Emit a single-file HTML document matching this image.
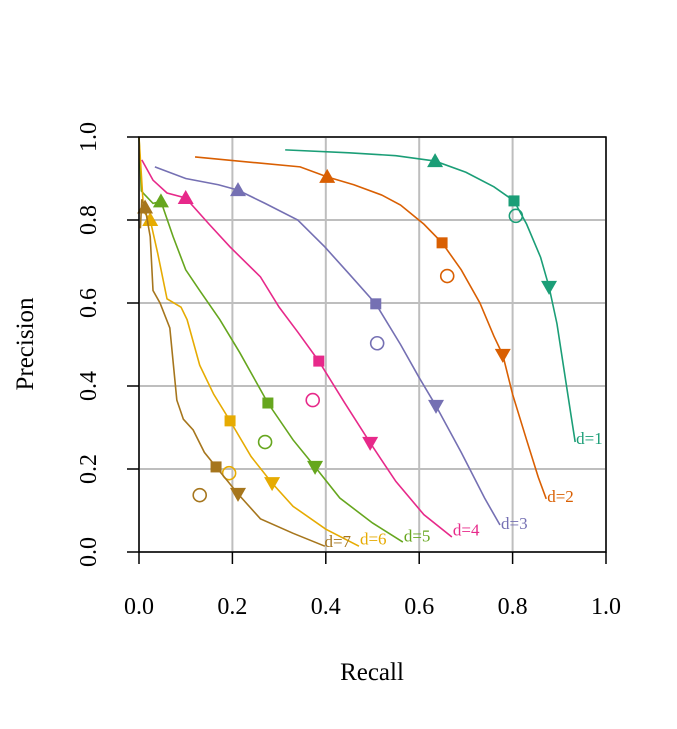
<!DOCTYPE html>
<html><head><meta charset="utf-8"><style>
body{margin:0;background:#fff}
svg text{font-family:"Liberation Serif",serif;}
</style></head><body>
<svg id="chart" width="677" height="724" viewBox="0 0 677 724" xmlns="http://www.w3.org/2000/svg">
<rect width="677" height="724" fill="#fff"/>
<g id="grid"></g>
<g id="series"></g>
<g id="axes"></g>
<text x="372" y="680" font-size="25" text-anchor="middle">Recall</text>
<text x="33" y="344" font-size="25" text-anchor="middle" transform="rotate(-90 33 344)">Precision</text>
</svg>
<script>
const xTicks=[0,0.2,0.4,0.6,0.8,1.0];
const yTicks=[0,0.2,0.4,0.6,0.8,1.0];
const tickLabels=["0.0","0.2","0.4","0.6","0.8","1.0"];
const seriesNames=["d=1","d=2","d=3","d=4","d=5","d=6","d=7"];
const colors=["#1B9E77","#D95F02","#7570B3","#E7298A","#66A61E","#E6AB02","#A6761D"];
const d1=[[0.313,0.969],[0.45,0.962],[0.55,0.955],[0.634,0.942],[0.70,0.915],[0.76,0.88],[0.803,0.846],[0.83,0.79],[0.86,0.71],[0.878,0.639],[0.895,0.55],[0.91,0.44],[0.925,0.33],[0.934,0.265]];
const d2=[[0.12,0.952],[0.25,0.938],[0.345,0.928],[0.403,0.904],[0.46,0.885],[0.52,0.86],[0.56,0.836],[0.61,0.79],[0.649,0.745],[0.69,0.68],[0.73,0.6],[0.76,0.52],[0.779,0.475],[0.80,0.38],[0.83,0.27],[0.855,0.18],[0.872,0.128]];
const d3=[[0.034,0.928],[0.1,0.9],[0.17,0.885],[0.212,0.872],[0.27,0.84],[0.34,0.8],[0.398,0.735],[0.45,0.67],[0.507,0.598],[0.56,0.5],[0.6,0.42],[0.636,0.352],[0.69,0.24],[0.74,0.13],[0.773,0.065]];
const d4=[[0.006,0.945],[0.03,0.896],[0.06,0.865],[0.1,0.853],[0.15,0.79],[0.195,0.735],[0.26,0.663],[0.3,0.59],[0.34,0.53],[0.385,0.46],[0.44,0.36],[0.495,0.263],[0.55,0.17],[0.61,0.09],[0.67,0.036]];
const d5=[[0,1],[0.005,0.87],[0.013,0.86],[0.03,0.84],[0.047,0.845],[0.073,0.76],[0.10,0.68],[0.13,0.63],[0.173,0.56],[0.216,0.48],[0.276,0.359],[0.33,0.27],[0.377,0.205],[0.43,0.13],[0.5,0.07],[0.565,0.024]];
const d6=[[0,1],[0.01,0.82],[0.024,0.8],[0.04,0.72],[0.06,0.61],[0.09,0.59],[0.103,0.56],[0.13,0.45],[0.16,0.38],[0.195,0.316],[0.24,0.23],[0.285,0.166],[0.33,0.11],[0.4,0.055],[0.471,0.014]];
const d7=[[0.003,0.78],[0.006,0.85],[0.013,0.83],[0.024,0.76],[0.03,0.63],[0.045,0.6],[0.066,0.54],[0.081,0.366],[0.095,0.32],[0.116,0.294],[0.14,0.24],[0.165,0.205],[0.212,0.14],[0.26,0.08],[0.33,0.045],[0.398,0.014]];
const upMarkers=[[0.634,0.942],[0.403,0.904],[0.212,0.872],[0.1,0.853],[0.047,0.845],[0.024,0.8],[0.013,0.83]];
const squareMarkers=[[0.803,0.846],[0.649,0.745],[0.507,0.598],[0.385,0.46],[0.276,0.359],[0.195,0.316],[0.165,0.205]];
const downMarkers=[[0.878,0.639],[0.779,0.475],[0.636,0.352],[0.495,0.263],[0.377,0.205],[0.285,0.166],[0.212,0.14]];
const circleMarkers=[[0.807,0.81],[0.66,0.665],[0.51,0.503],[0.372,0.366],[0.27,0.265],[0.193,0.19],[0.13,0.137]];
const labelPos=[[0.934,0.27],[0.872,0.13],[0.773,0.065],[0.67,0.05],[0.565,0.035],[0.471,0.028],[0.395,0.022]];
const allSeries=[d1,d2,d3,d4,d5,d6,d7];

const NS="http://www.w3.org/2000/svg";
const X0=139,X1=606,Y0=552,Y1=137;
const sx=v=>X0+(X1-X0)*v;
const sy=v=>Y0-(Y0-Y1)*v;
function mk(tag,attrs,parent){const e=document.createElementNS(NS,tag);for(const k in attrs)e.setAttribute(k,attrs[k]);parent.appendChild(e);return e;}
const grid=document.getElementById('grid'),axes=document.getElementById('axes'),ser=document.getElementById('series');
xTicks.forEach((t,i)=>{
  const l=mk('line',{x1:sx(t),x2:sx(t),y1:Y1,y2:Y0,stroke:'#bebebe','stroke-width':2},grid);
  
  
  const tk=mk('line',{x1:sx(t),x2:sx(t),y1:Y0,y2:Y0+12,stroke:'#000','stroke-width':1.5},axes);
  
  
  const tx=mk('text',{x:sx(t),y:614,'font-size':24,'text-anchor':'middle'},axes);
  tx.textContent=tickLabels[i];
  
  
});
yTicks.forEach((t,i)=>{
  const l=mk('line',{x1:X0,x2:X1,y1:sy(t),y2:sy(t),stroke:'#bebebe','stroke-width':2},grid);
  
  
  const tk=mk('line',{x1:X0-12,x2:X0,y1:sy(t),y2:sy(t),stroke:'#000','stroke-width':1.5},axes);
  
  
  const tx=mk('text',{x:96,y:sy(t),'font-size':24,'text-anchor':'middle',transform:`rotate(-90 96 ${sy(t)})`},axes);
  tx.textContent=tickLabels[i];
  
  
});
const box=mk('rect',{x:X0,y:Y1,width:X1-X0,height:Y0-Y1,fill:'none',stroke:'#000','stroke-width':1.5},axes);



allSeries.forEach((s,i)=>{
  const c=colors[i];
  const p=mk('polyline',{points:s.map(q=>sx(q[0])+','+sy(q[1])).join(' '),fill:'none',stroke:c,'stroke-width':1.6},ser);
  
  
  const u=upMarkers[i],ux=sx(u[0]),uy=sy(u[1]);
  const ut=mk('polygon',{points:`${ux},${uy-8} ${ux-8},${uy+6} ${ux+8},${uy+6}`,fill:c},ser);
  
  
  const q=squareMarkers[i];
  const sq=mk('rect',{x:sx(q[0])-5.5,y:sy(q[1])-5.5,width:11,height:11,fill:c},ser);
  
  
  const d=downMarkers[i],dx=sx(d[0]),dy=sy(d[1]);
  const dt=mk('polygon',{points:`${dx},${dy+8} ${dx-8},${dy-6} ${dx+8},${dy-6}`,fill:c},ser);
  
  
  const o=circleMarkers[i];
  const ci=mk('circle',{cx:sx(o[0]),cy:sy(o[1]),r:6.5,fill:'none',stroke:c,'stroke-width':1.6},ser);
  
  
  const lp=labelPos[i];
  const t=mk('text',{x:sx(lp[0])+1,y:sy(lp[1])+4,'font-size':17,fill:c},ser);
  t.textContent=seriesNames[i];
  
  
});
</script>
</body></html>
